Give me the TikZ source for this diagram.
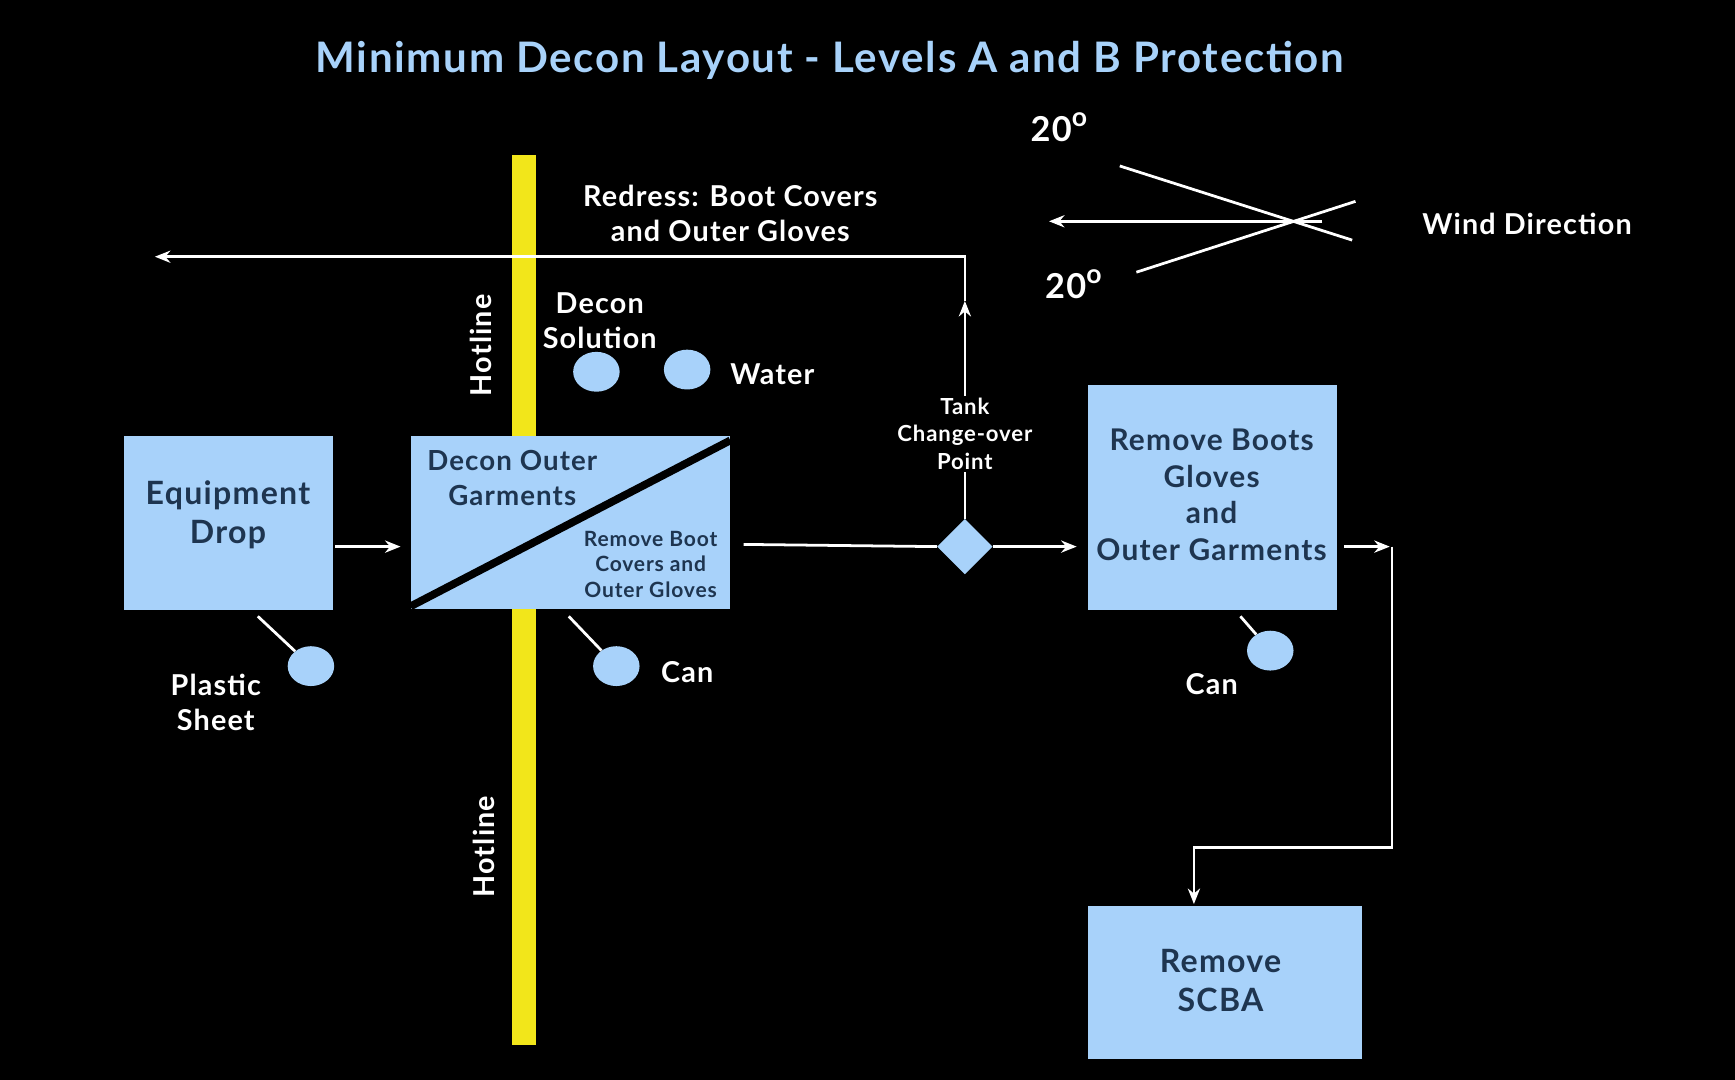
\documentclass[tikz,border=0pt]{standalone}
\usepackage{fontspec}
\setmainfont{Lato}[LetterSpace=4]
\usetikzlibrary{arrows.meta,shapes.geometric}
\definecolor{lb}{HTML}{A8D2FA}
\definecolor{navy}{HTML}{1E3550}
\definecolor{yel}{HTML}{F2E61A}
\begin{document}
\begin{tikzpicture}[x=1pt,y=-1pt,
 box/.style={fill=lb,draw=none},
 btxt/.style={text=navy,font=\fontsize{29}{35}\selectfont\bfseries,align=center},
 wt/.style={text=white,font=\fontsize{26}{32}\selectfont\bfseries,align=center},
 st/.style={text=white,font=\fontsize{20}{25}\selectfont\bfseries,align=center},
 dot/.style={ellipse,fill=lb,minimum width=42pt,minimum height=36pt,inner sep=0pt},
 wl/.style={white,line width=2.5pt},
 arr/.style={wl,-{Stealth[length=14pt,width=11pt]}}]
\fill[black] (0,0) rectangle (1568,976);
\useasboundingbox (0,0) rectangle (1568,976);
\node[text=lb,font=\fontsize{38}{44}\selectfont\bfseries] (title) at (750,55) {Minimum Decon Layout - Levels A and B Protection};
\fill[yel] (463,140) rectangle (484,944);
\node[wt,rotate=90] (h1) at (435,312) {Hotline};
\node[wt,rotate=90] (h2) at (437,765) {Hotline};
% boxes
\fill[box] (112,394) rectangle (301,551);
\node[btxt] (eq) at (206,465) {Equipment\\Drop};
\coordinate (eqE) at (303,494);
\fill[box] (371,394) rectangle (660,550);
\draw[black,line width=7pt] (371,548) -- (660,398);
\node[text=navy,font=\fontsize{25}{31}\selectfont\bfseries,align=center] (dog) at (463,432) {Decon Outer\\Garments};
\node[text=navy,font=\fontsize{19}{23}\selectfont\bfseries,align=center] (rbc) at (588,510) {Remove Boot\\Covers and\\Outer Gloves};
\coordinate (dE) at (672,492);
\coordinate (dW) at (362,494);
\fill[box] (983,348) rectangle (1208,551);
\node[btxt,font=\fontsize{27}{33}\selectfont\bfseries] (rb) at (1095,447) {Remove Boots\\Gloves\\and\\Outer Garments};
\fill[box] (983,819) rectangle (1231,957);
\node[btxt] (scba) at (1103,886) {Remove\\SCBA};
\node[diamond,fill=lb,minimum width=50pt,minimum height=50pt,inner sep=0pt] (dia) at (872,494) {};
% dots
\node[dot] (c1) at (539,336) {};
\node[dot] (c2) at (621,334) {};
\node[dot] (c3) at (281,602) {};
\node[dot] (c4) at (557,602) {};
\node[dot] (c5) at (1148,588) {};
\draw[wl] (233,557) -- (c3);
\draw[wl] (514,557) -- (c4);
\draw[wl] (1121,557) -- (c5);
% labels
\node[wt] (redress) at (660,193) {Redress: Boot Covers\\and Outer Gloves};
\node[wt] (ds) at (542,290) {Decon\\Solution};
\node[wt] (water) at (698,338) {Water};
\node[wt] (ps) at (195,635) {Plastic\\Sheet};
\node[wt] (can1) at (621,607) {Can};
\node[wt] (can2) at (1095,618) {Can};
% arrows
\draw[arr] (eqE) -- (dW);
\draw[wl] (dE) -- (dia.west);
\draw[arr] (dia.east) -- (973,494);
\coordinate (up1) at (872,272);
\coordinate (up2) at (872,232);
\coordinate (lft) at (140,232);
\draw[arr] (dia.north) -- (up1);
\draw[arr] (up1) -- (up2) -- (lft);
\node[st,fill=black,inner sep=2pt] (tank) at (872,392) {Tank\\Change-over\\Point};
\coordinate (r1) at (1215,494);
\coordinate (r2) at (1256,494);
\draw[arr] (r1) -- (r2);
\coordinate (r3) at (1258,494);
\coordinate (r4) at (1258,766);
\coordinate (r5) at (1079,766);
\coordinate (r6) at (1079,817);
\draw[arr] (r3) -- (r4) -- (r5) -- (r6);
% wind
\coordinate (w1) at (1195,200);
\coordinate (w2) at (948,200);
\draw[arr] (w1) -- (w2);
\coordinate (a1) at (1012,150); \coordinate (a2) at (1222,217);
\coordinate (b1) at (1027,246); \coordinate (b2) at (1225,182);
\draw[wl] (a1) -- (a2);
\draw[wl] (b1) -- (b2);
\node[text=white,font=\fontsize{31}{34}\selectfont\bfseries] (d1) at (957,115) {20\raisebox{0.45em}{\fontsize{24}{26}\selectfont o}};
\node[text=white,font=\fontsize{31}{34}\selectfont\bfseries] (d2) at (970,257) {20\raisebox{0.45em}{\fontsize{24}{26}\selectfont o}};
\node[wt] (wd) at (1380,202) {Wind Direction};
\end{tikzpicture}
\end{document}
